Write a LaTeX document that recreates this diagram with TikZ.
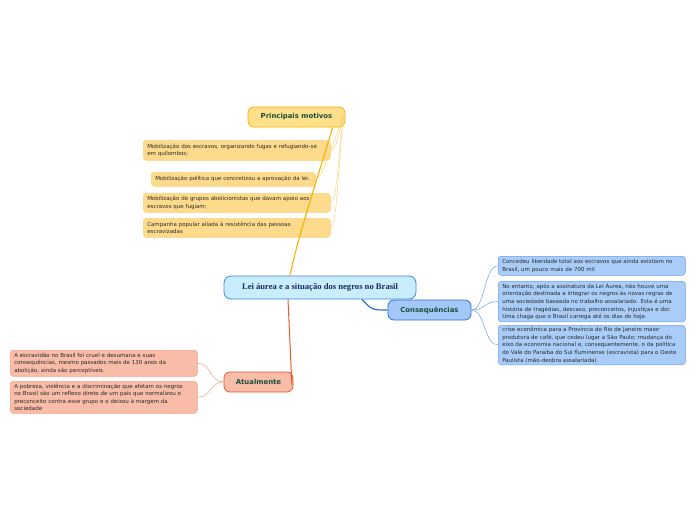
\documentclass[tikz,border=0pt]{standalone}
\usepackage{fontspec}
\setmainfont{Liberation Serif}
\setsansfont{DejaVu Sans}
\usetikzlibrary{calc}
\hyphenpenalty=10000
\exhyphenpenalty=10000
\definecolor{cfill}{HTML}{C9EDFD}
\definecolor{cdraw}{HTML}{3D8AD8}
\definecolor{ttl}{HTML}{1B4D3E}
\definecolor{ctitle}{HTML}{1A2A5A}
\definecolor{yfill}{HTML}{FFE08A}
\definecolor{ydraw}{HTML}{F3B400}
\definecolor{ycfill}{HTML}{FEDB8C}
\definecolor{ycdraw}{HTML}{F9D27A}
\definecolor{bfill}{HTML}{A3C8F7}
\definecolor{bdraw}{HTML}{2F6FD0}
\definecolor{bcfill}{HTML}{A9CDF8}
\definecolor{bcdraw}{HTML}{6AA0EE}
\definecolor{rfill}{HTML}{F8BCA8}
\definecolor{rdraw}{HTML}{E85A2A}
\definecolor{rcdraw}{HTML}{F3A285}
\definecolor{txt}{HTML}{2A2A2A}
\tikzset{
  topic/.style={rounded corners=6pt, draw, line width=0.8pt, font=\sffamily\bfseries\fontsize{6.9}{8}\selectfont, text=ttl, inner sep=0pt},
  leaf/.style={rounded corners=3pt, draw, line width=0.5pt, font=\sffamily\fontsize{5.5}{7.6}\selectfont, text=txt, align=left, inner xsep=4pt, inner ysep=2pt, anchor=north west},
  thin/.style={line width=0.5pt},
}
\begin{document}
\begin{tikzpicture}[x=1pt,y=-1pt]
\useasboundingbox (0,0) rectangle (696,520);
% central
\node[rounded corners=7pt, draw=cdraw, fill=cfill, line width=0.8pt, minimum width=192pt, minimum height=23pt, inner sep=0pt, font=\bfseries\fontsize{8.6}{10}\selectfont, text=ctitle] (c) at (320,287.5) {Lei áurea e a situação dos negros no Brasil};
% main topics
\node[topic, fill=yfill, draw=ydraw, minimum width=97pt, minimum height=20pt] (pm) at (296.5,117) {Principais motivos};
\node[topic, fill=bfill, draw=bdraw, minimum width=83pt, minimum height=20pt] (cs) at (429.5,310) {Consequências};
\node[topic, fill=rfill, draw=rdraw, minimum width=69pt, minimum height=20pt] (at) at (258.5,382) {Atualmente};
% motivo leaves
\node[leaf, fill=ycfill, draw=ycdraw, text width=179pt, minimum height=20pt] (m1) at (143,140) {Mobilização dos escravos, organizando fugas e refugiando-se em quilombos;};
\node[leaf, fill=ycfill, draw=ycdraw, text width=156pt, minimum height=14pt] (m2) at (151,172) {Mobilização política que concretizou a aprovação da lei.};
\node[leaf, fill=ycfill, draw=ycdraw, text width=179pt, minimum height=19pt] (m3) at (143,193) {Mobilização de grupos abolicionistas que davam apoio aos escravos que fugiam;};
\node[leaf, fill=ycfill, draw=ycdraw, text width=179pt, minimum height=19pt] (m4) at (143,218) {Campanha popular aliada à resistência das pessoas escravizadas};
% consequencia leaves
\node[leaf, fill=bcfill, draw=bcdraw, text width=179pt, minimum height=19pt] (k1) at (498,256) {Concedeu liberdade total aos escravos que ainda existiam no\\Brasil, um pouco mais de 700 mil};
\node[leaf, fill=bcfill, draw=bcdraw, text width=179pt, minimum height=38pt] (k2) at (498,281) {No entanto, após a assinatura da Lei Áurea, não houve uma orientação destinada a integrar os negros às novas regras de uma sociedade baseada no trabalho assalariado. Esta é uma história de tragédias, descaso, preconceitos, injustiças e dor. Uma chaga que o Brasil carrega até os dias de hoje.};
\node[leaf, fill=bcfill, draw=bcdraw, text width=179pt, minimum height=38pt] (k3) at (498,325) {crise econômica para a Província do Rio de Janeiro maior produtora de café, que cedeu lugar a São Paulo; mudança do eixo da economia nacional e, consequentemente, o da política do Vale do Paraíba do Sul fluminense (escravista) para o Oeste Paulista (mão-deobra assalariada)};
% atualmente leaves
\node[leaf, fill=rfill, draw=rcdraw, text width=179pt, minimum height=26pt] (a1) at (10,350) {A escravidão no Brasil foi cruel e desumana e suas\\consequências, mesmo passados mais de 130 anos da\\abolição, ainda são perceptíveis.};
\node[leaf, fill=rfill, draw=rcdraw, text width=179pt, minimum height=32pt] (a2) at (10,381) {A pobreza, violência e a discriminação que afetam os negros\\no Brasil são um reflexo direto de um país que normalizou o\\preconceito contra esse grupo e o deixou à margem da\\sociedade};
% main connectors
\draw[ydraw, line width=1.1pt] ([xshift=-30pt]c.north) .. controls (298,235) and (322,165) .. ([xshift=36pt]pm.south);
\draw[bdraw, line width=1.2pt] ([xshift=42pt]c.south) .. controls (372,310) .. (cs.west);
\draw[rdraw, line width=1pt] ([xshift=-32pt]c.south) -- ([xshift=-1.5pt,yshift=-3pt]at.east);
% leaf connectors
\coordinate (pmr) at ([yshift=5pt]pm.east);
\foreach \m in {m1,m2,m3,m4}{
  \draw[ycdraw, thin] (pmr) .. controls ($(pmr)+(-6,10)$) and ($(\m.east)+(8,0)$) .. (\m.east);
}
\foreach \k in {k1,k2,k3}{
  \draw[bcdraw, thin] (cs.east) .. controls ($(cs.east)+(14,0)$) and ($(\k.west)+(-14,0)$) .. (\k.west);
}
\foreach \a in {a1,a2}{
  \draw[rcdraw, thin] (at.west) .. controls ($(at.west)+(-14,0)$) and ($(\a.east)+(14,0)$) .. (\a.east);
}
\end{tikzpicture}
\end{document}
